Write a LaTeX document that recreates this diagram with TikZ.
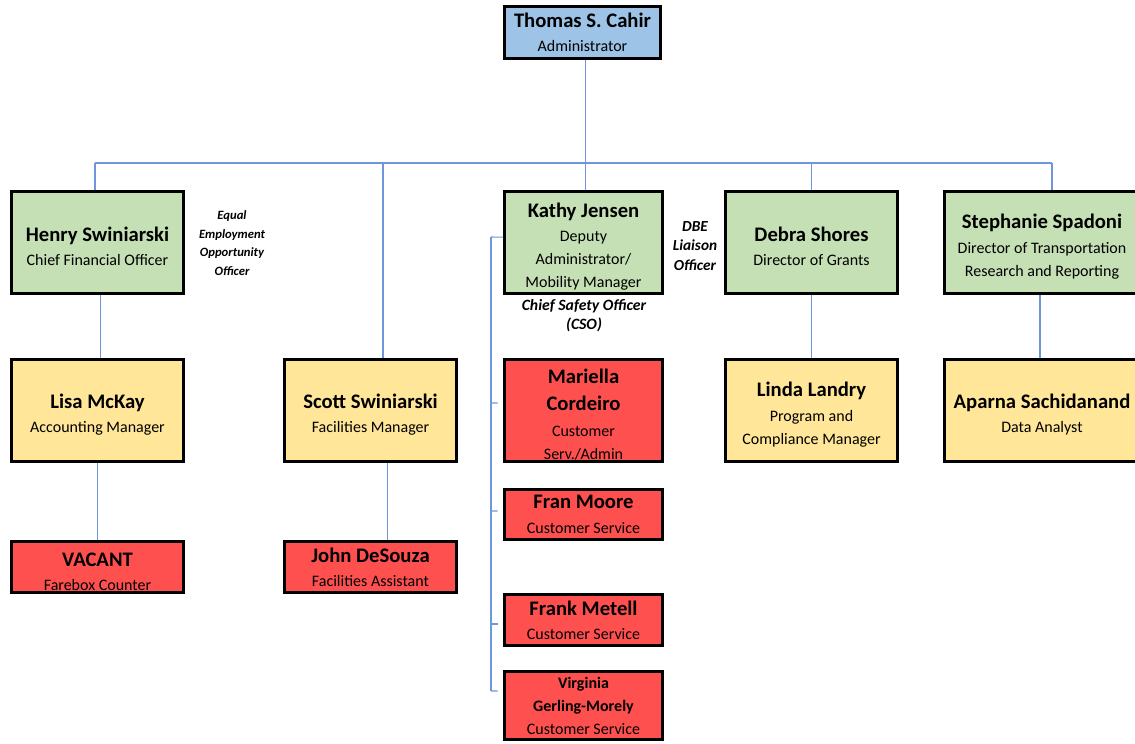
\documentclass[tikz,border=0pt]{standalone}
\usepackage{fontspec}
\setmainfont{Carlito}
\usepackage{xcolor}
\definecolor{chiefblue}{HTML}{9DC3E6}
\definecolor{leadgreen}{HTML}{C5E0B4}
\definecolor{mgryellow}{HTML}{FFE699}
\definecolor{staffred}{HTML}{FF5050}
\definecolor{linkblue}{HTML}{6E96DC}
\newcommand{\nm}[1]{{\fontsize{15.5}{17}\selectfont\bfseries #1}}
\newcommand{\lnm}[1]{{\fontsize{15.5}{17}\selectfont\bfseries\rule{0pt}{17pt}#1}}
\newcommand{\snm}[1]{{\fontsize{12}{17}\selectfont\bfseries #1}}

\begin{document}
\begin{tikzpicture}[x=0.75pt,y=-0.75pt]
\tikzstyle{every node}+=[inner sep=0pt, align=center, font=\fontsize{12}{17.25}\selectfont]
\tikzstyle{post}=[draw=black, line width=2.25pt, minimum height=76.5pt]
\tikzstyle{wide}=[post, minimum width=129pt]
\tikzstyle{slim}=[post, minimum width=118.5pt]
\tikzstyle{duty}=[font=\fontsize{11.5}{14.5}\selectfont\bfseries\itshape]
\tikzstyle{link}=[draw=linkblue, line width=0.8pt]
\useasboundingbox (0,0) rectangle (1135,743);
\node[post, fill=chiefblue, minimum width=117pt, minimum height=39pt] (cahir) at (582.5,32.5) {\nm{Thomas S. Cahir}\\[0.5pt] Administrator};
\node[wide, fill=leadgreen] (henry) at (97.5,242.5) {\lnm{Henry Swiniarski}\\[1pt] Chief Financial Officer};
\node[slim, fill=leadgreen] (kathy) at (583.5,242.5) {\lnm{Kathy Jensen}\\[1pt] Deputy\\ Administrator/\\ Mobility Manager};
\node[wide, fill=leadgreen] (debra) at (811.5,242.5) {\lnm{Debra Shores}\\[1pt] Director of Grants};
\node[post, fill=leadgreen, minimum width=147pt] (stephanie) at (1042,242.5) {\lnm{Stephanie Spadoni}\\[1pt] Director of Transportation\\ Research and Reporting};
\node[wide, fill=mgryellow] (lisa) at (97.5,410.5) {\lnm{Lisa McKay}\\[1pt] Accounting Manager};
\node[wide, fill=mgryellow] (scott) at (370.5,410.5) {\lnm{Scott Swiniarski}\\[1pt] Facilities Manager};
\node[slim, fill=staffred] (mariella) at (583.5,410.5) {\lnm{Mariella}\\[3pt] \nm{Cordeiro}\\[2pt] Customer\\ Serv./Admin};
\node[wide, fill=mgryellow] (linda) at (811.5,410.5) {\lnm{Linda Landry}\\[1pt] Program and\\ Compliance Manager};
\node[post, fill=mgryellow, minimum width=147pt] (aparna) at (1042,410.5) {\lnm{Aparna Sachidanand}\\[1pt] Data Analyst};
\node[wide, fill=staffred, minimum height=38.25pt] (vacant) at (97.5,567) {\lnm{VACANT}\\[1pt] Farebox Counter};
\node[wide, fill=staffred, minimum height=38.25pt] (john) at (370.5,567) {\nm{John DeSouza}\\[1pt] Facilities Assistant};
\node[slim, fill=staffred, minimum height=37.5pt] (fran) at (583.5,514.5) {\nm{Fran Moore}\\[1pt] Customer Service};
\node[slim, fill=staffred, minimum height=38.25pt] (frank) at (583.5,620) {\nm{Frank Metell}\\[1pt] Customer Service};
\node[slim, fill=staffred, minimum height=51pt] (virginia) at (583.5,705.5) {\snm{Virginia}\\ \snm{Gerling-Morely}\\ Customer Service};
\node[duty, font=\fontsize{9.5}{13.9}\selectfont\bfseries\itshape] (eeo) at (232,243) {Equal\\ Employment\\ Opportunity\\ Officer};
\node[duty] (dbe) at (695,246) {DBE\\ Liaison\\ Officer};
\node[duty, font=\fontsize{11.8}{14.25}\selectfont\bfseries\itshape] (cso) at (584,316) {Chief Safety Officer\\ (CSO)};
\coordinate (busL) at (95,163);
\coordinate (busR) at (1052,163);
\coordinate (busS) at (383,163);
\coordinate (rail) at (491,237);
\draw[link] ([xshift=2.5pt]cahir.south) -- ([xshift=2.5pt]cahir.south |- kathy.north);
\draw[link] (busL) -- (busR);
\draw[link] (busL) -- (busL |- henry.north);
\draw[link] (busS) -- (busS |- scott.north);
\draw[link] (debra.north) -- (debra.north |- busL);
\draw[link] (busR) -- (busR |- stephanie.north);
\draw[link] ([xshift=2pt]henry.south) -- ([xshift=2pt]lisa.north);
\draw[link] (lisa.south) -- (vacant.north);
\draw[link] ([xshift=13pt]scott.south) -- ([xshift=13pt]john.north);
\draw[link] (debra.south) -- (linda.north);
\draw[link] ([xshift=-1.5pt]stephanie.south) -- ([xshift=-1.5pt]aparna.north);
\draw[link] (rail) -- (rail |- virginia.north) -- ++(0,21);
\draw[link] (rail) -- ([yshift=4pt]kathy.west);
\draw[link, shorten >=4pt] (rail |- mariella.west) ++(0,-7.5) -- ([yshift=5.6pt]mariella.west);
\draw[link, shorten >=4pt] (rail |- fran.west) ++(0,-3.5) -- ([yshift=2.6pt]fran.west);
\draw[link, shorten >=4pt] (rail |- frank.west) ++(0,4) -- ([yshift=-3pt]frank.west);
\draw[link, shorten >=4pt] (rail |- virginia.west) ++(0,-14.5) -- ([yshift=10.9pt]virginia.west);
\end{tikzpicture}
\end{document}
